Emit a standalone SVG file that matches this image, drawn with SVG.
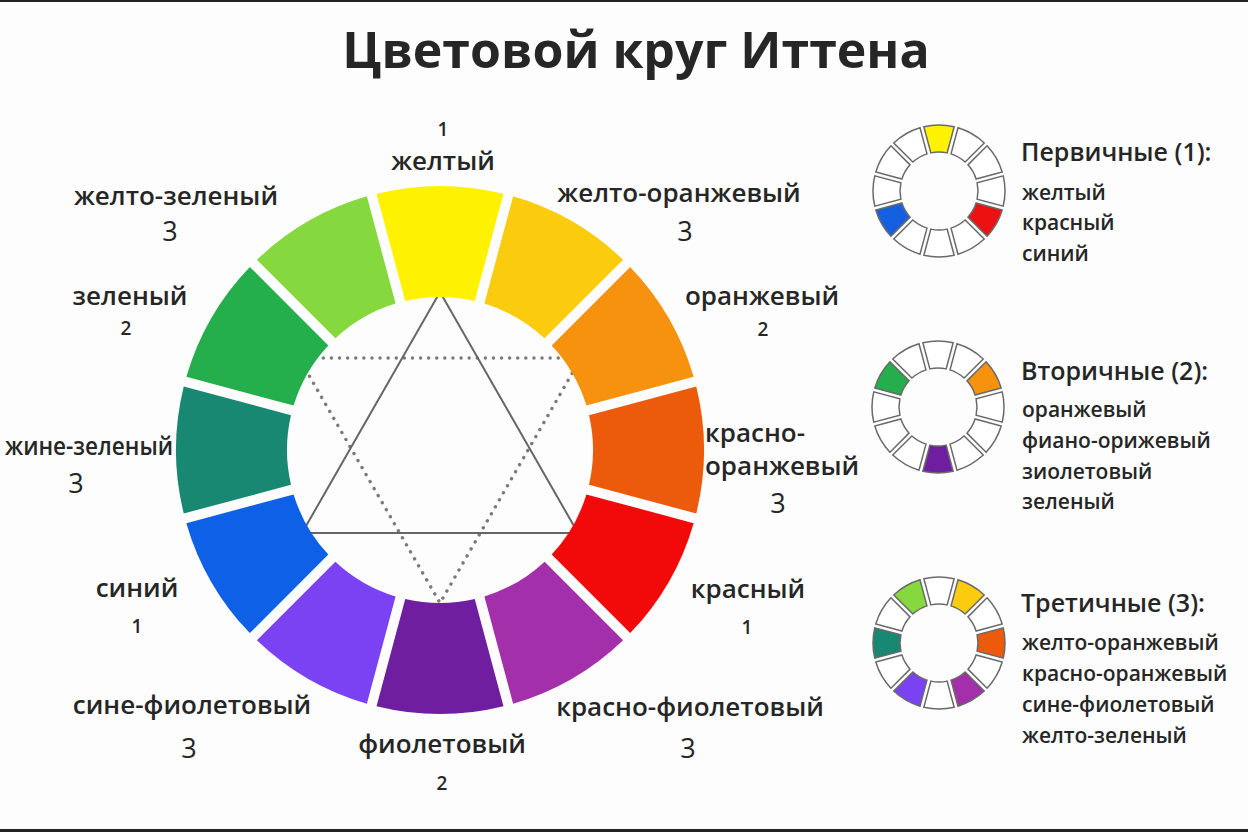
<svg xmlns="http://www.w3.org/2000/svg" xmlns:xlink="http://www.w3.org/1999/xlink" width="1248" height="832" viewBox="0 0 1248 832">
<style>
text{font-family:"Open Sans","Noto Sans","DejaVu Sans",sans-serif;fill:#262626}
.t{font-size:50px;font-weight:700;text-anchor:middle}
.l{font-size:26px;font-weight:600;text-anchor:middle}
.n3{font-size:27px;font-weight:500;text-anchor:middle}
.n{font-size:19px;font-weight:600;text-anchor:middle}
.h{font-size:25px;font-weight:600}
.s{font-size:21px;font-weight:600}
.sm{stroke:#6a6a6a;stroke-width:1.5}
.emp{fill:#ffffff}
</style>
<defs>
<path id="seg" d="M -63.49 -256.25 A 264 264 0 0 1 63.49 -256.25 L 34.75 -149.00 A 153 153 0 0 0 -34.75 -149.00 Z"/>
<path id="sseg" d="M -15.14 -64.24 A 66 66 0 0 1 15.14 -64.24 L 8.15 -38.14 A 39 39 0 0 0 -8.15 -38.14 Z"/>
</defs>
<rect x="0" y="0" width="1248" height="832" fill="#fdfdfd"/>
<rect x="0" y="0" width="1248" height="2" fill="#222"/>
<rect x="0" y="829" width="1248" height="3" fill="#222"/>
<text class="t" x="636" y="68">Цветовой круг Иттена</text>

<g id="connectors" fill="none">
<polygon points="299,358 581,358 440,603" stroke="#7a7a7a" stroke-width="3.4" stroke-dasharray="0.1 8" stroke-linecap="round"/>
<polygon points="440,292 578,533 302,533" stroke="#666" stroke-width="2"/>
</g>

<g id="wheel">
<g id="yellow"><use href="#seg" transform="translate(440 450) rotate(0)" fill="#FFF200"/><text class="n" x="443" y="136">1</text><text class="l" x="443" y="170">желтый</text></g>
<g id="yellow-orange"><use href="#seg" transform="translate(440 450) rotate(30)" fill="#FBCB0E"/><text class="l" x="679" y="202">желто-оранжевый</text><text class="n3" x="685" y="241">3</text></g>
<g id="orange"><use href="#seg" transform="translate(440 450) rotate(60)" fill="#F7920F"/><text class="l" x="762" y="305">оранжевый</text><text class="n" x="763" y="336">2</text></g>
<g id="red-orange"><use href="#seg" transform="translate(440 450) rotate(90)" fill="#EC5A0B"/><text class="l" x="705" y="442" style="text-anchor:start">красно-</text><text class="l" x="705" y="475" style="text-anchor:start">оранжевый</text><text class="n3" x="778" y="513">3</text></g>
<g id="red"><use href="#seg" transform="translate(440 450) rotate(120)" fill="#F20A0A"/><text class="l" x="748" y="598">красный</text><text class="n" x="747" y="634">1</text></g>
<g id="red-violet"><use href="#seg" transform="translate(440 450) rotate(150)" fill="#A42FAA"/><text class="l" x="690" y="716">красно-фиолетовый</text><text class="n3" x="688" y="758">3</text></g>
<g id="violet"><use href="#seg" transform="translate(440 450) rotate(180)" fill="#6E1E9E"/><text class="l" x="442" y="753">фиолетовый</text><text class="n" x="442" y="790">2</text></g>
<g id="blue-violet"><use href="#seg" transform="translate(440 450) rotate(210)" fill="#7A42F2"/><text class="l" x="192" y="714">сине-фиолетовый</text><text class="n3" x="189" y="758">3</text></g>
<g id="blue"><use href="#seg" transform="translate(440 450) rotate(240)" fill="#0E60E6"/><text class="l" x="137" y="597">синий</text><text class="n" x="137" y="633">1</text></g>
<g id="blue-green"><use href="#seg" transform="translate(440 450) rotate(270)" fill="#198872"/><text class="l" x="5" y="455" style="text-anchor:start" textLength="168" lengthAdjust="spacingAndGlyphs">жине-зеленый</text><text class="n3" x="76" y="493">3</text></g>
<g id="green"><use href="#seg" transform="translate(440 450) rotate(300)" fill="#24AF4C"/><text class="l" x="130" y="305">зеленый</text><text class="n" x="126" y="335">2</text></g>
<g id="yellow-green"><use href="#seg" transform="translate(440 450) rotate(330)" fill="#85D83E"/><text class="l" x="176" y="205">желто-зеленый</text><text class="n3" x="170" y="241">3</text></g>
</g>

<g id="primary">
<g class="sm" transform="translate(939 191)">
<use href="#sseg" fill="#FFF200" transform="rotate(0)"/>
<use href="#sseg" class="emp" transform="rotate(30)"/>
<use href="#sseg" class="emp" transform="rotate(60)"/>
<use href="#sseg" class="emp" transform="rotate(90)"/>
<use href="#sseg" fill="#EE1111" transform="rotate(120)"/>
<use href="#sseg" class="emp" transform="rotate(150)"/>
<use href="#sseg" class="emp" transform="rotate(180)"/>
<use href="#sseg" class="emp" transform="rotate(210)"/>
<use href="#sseg" fill="#1560E0" transform="rotate(240)"/>
<use href="#sseg" class="emp" transform="rotate(270)"/>
<use href="#sseg" class="emp" transform="rotate(300)"/>
<use href="#sseg" class="emp" transform="rotate(330)"/>
</g>
<text class="h" x="1021" y="161">Первичные (1):</text>
<text class="s" x="1022" y="200">желтый</text>
<text class="s" x="1022" y="230">красный</text>
<text class="s" x="1022" y="261">синий</text>
</g>

<g id="secondary">
<g class="sm" transform="translate(938 407)">
<use href="#sseg" class="emp" transform="rotate(0)"/>
<use href="#sseg" class="emp" transform="rotate(30)"/>
<use href="#sseg" fill="#F7920F" transform="rotate(60)"/>
<use href="#sseg" class="emp" transform="rotate(90)"/>
<use href="#sseg" class="emp" transform="rotate(120)"/>
<use href="#sseg" class="emp" transform="rotate(150)"/>
<use href="#sseg" fill="#6E1E9E" transform="rotate(180)"/>
<use href="#sseg" class="emp" transform="rotate(210)"/>
<use href="#sseg" class="emp" transform="rotate(240)"/>
<use href="#sseg" class="emp" transform="rotate(270)"/>
<use href="#sseg" fill="#24AF4C" transform="rotate(300)"/>
<use href="#sseg" class="emp" transform="rotate(330)"/>
</g>
<text class="h" x="1021" y="380">Вторичные (2):</text>
<text class="s" x="1022" y="417">оранжевый</text>
<text class="s" x="1022" y="448">фиано-орижевый</text>
<text class="s" x="1022" y="479">зиолетовый</text>
<text class="s" x="1022" y="509">зеленый</text>
</g>

<g id="tertiary">
<g class="sm" transform="translate(939 643)">
<use href="#sseg" class="emp" transform="rotate(0)"/>
<use href="#sseg" fill="#FBCB0E" transform="rotate(30)"/>
<use href="#sseg" class="emp" transform="rotate(60)"/>
<use href="#sseg" fill="#EC5A0B" transform="rotate(90)"/>
<use href="#sseg" class="emp" transform="rotate(120)"/>
<use href="#sseg" fill="#A42FAA" transform="rotate(150)"/>
<use href="#sseg" class="emp" transform="rotate(180)"/>
<use href="#sseg" fill="#7A42F2" transform="rotate(210)"/>
<use href="#sseg" class="emp" transform="rotate(240)"/>
<use href="#sseg" fill="#198872" transform="rotate(270)"/>
<use href="#sseg" class="emp" transform="rotate(300)"/>
<use href="#sseg" fill="#85D83E" transform="rotate(330)"/>
</g>
<text class="h" x="1021" y="612">Третичные (3):</text>
<text class="s" x="1022" y="650">желто-оранжевый</text>
<text class="s" x="1022" y="681">красно-оранжевый</text>
<text class="s" x="1022" y="712">сине-фиолетовый</text>
<text class="s" x="1022" y="743">желто-зеленый</text>
</g>
</svg>
